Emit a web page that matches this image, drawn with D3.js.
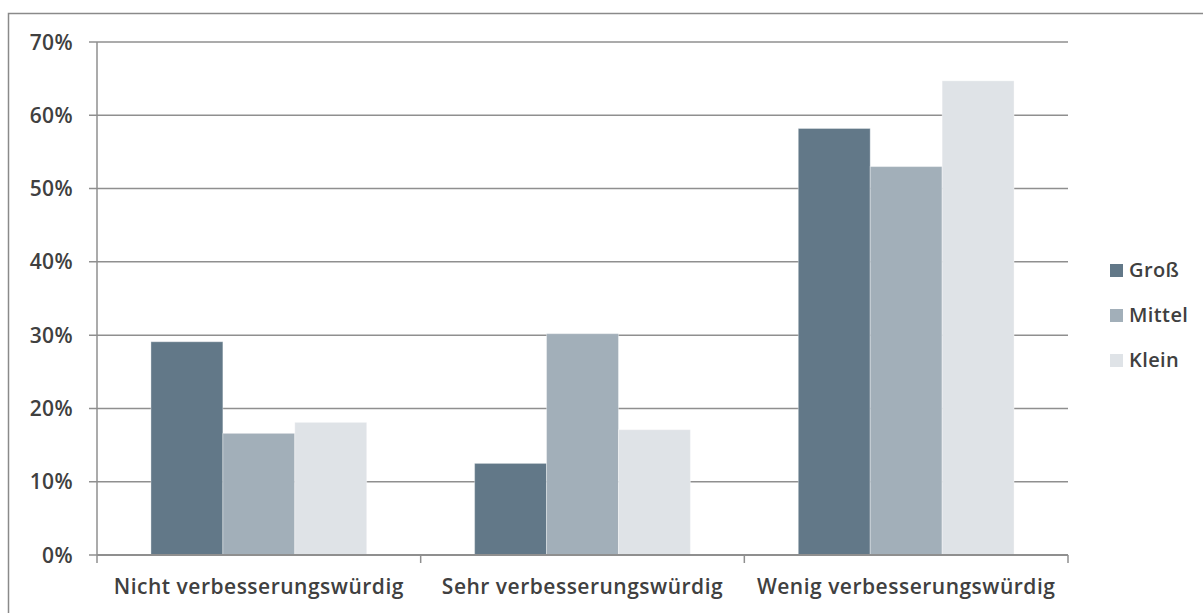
<!DOCTYPE html>
<html><head><meta charset="utf-8">
<script src="https://cdn.jsdelivr.net/npm/d3@7"></script>
<style>body{margin:0;background:#fff;} svg{display:block;}</style>
</head><body><svg id="c" width="1203" height="613"></svg>
<script>
const categories = ["Nicht verbesserungswürdig", "Sehr verbesserungswürdig", "Wenig verbesserungswürdig"];
const seriesNames = ["Groß", "Mittel", "Klein"];
const gross  = [29.1, 12.5, 58.2];
const mittel = [16.6, 30.2, 53.0];
const klein  = [18.1, 17.1, 64.7];
const yTicks = [0, 10, 20, 30, 40, 50, 60, 70];
const colors = ["#627888", "#a2afb9", "#dfe3e7"];

(function(){
const values = [gross, mittel, klein];
const svg = d3.select("#c");
const font = "'Open Sans', 'Liberation Sans', Arial, sans-serif";
const textColor = "#404040";
const gridColor = "#8f8f8f";

svg.append("rect").attr("x", 8.5).attr("y", 13.5).attr("width", 1200).attr("height", 700)
  .attr("fill", "none").attr("stroke", "#8a8a8a").attr("stroke-width", 1.5);

const pL = 97, pR = 1068, pT = 42, pB = 555;
const y = d3.scaleLinear().domain([0, 70]).range([pB, pT]);
const x0 = d3.scaleBand().domain(categories).range([pL, pR]).padding(0);
const x1 = d3.scaleBand().domain(seriesNames).range([x0.bandwidth() / 6, x0.bandwidth() * 5 / 6]).padding(0);

const gy = svg.append("g");
gy.selectAll("line").data(yTicks).join("line")
  .attr("x1", pL - 8).attr("x2", pR)
  .attr("y1", d => y(d)).attr("y2", d => y(d))
  .attr("stroke", gridColor).attr("stroke-width", 1.5);
gy.selectAll("text").data(yTicks).join("text")
  .attr("x", 73).attr("y", d => y(d)).attr("dy", "0.36em")
  .attr("text-anchor", "end").attr("font-family", font).attr("font-size", 21).attr("font-weight", 600)
  .attr("letter-spacing", 0.4)
  .attr("fill", textColor).text(d => d + "%");

svg.append("line").attr("x1", pL).attr("x2", pL).attr("y1", pT).attr("y2", pB)
  .attr("stroke", gridColor).attr("stroke-width", 1.5);

categories.forEach((c, ci) => {
  const g = svg.append("g").attr("transform", `translate(${x0(c)},0)`);
  g.selectAll("rect").data(seriesNames.map((s, si) => ({s, v: values[si][ci], i: si}))).join("rect")
    .attr("x", d => x1(d.s)).attr("width", x1.bandwidth())
    .attr("y", d => y(d.v)).attr("height", d => pB - y(d.v))
    .attr("fill", d => colors[d.i]).attr("stroke", "#ffffff").attr("stroke-opacity", 0.35).attr("stroke-width", 1);
});

svg.append("line").attr("x1", pL).attr("x2", pR).attr("y1", pB).attr("y2", pB)
  .attr("stroke", gridColor).attr("stroke-width", 2);
const xt = x0.domain().map(c => x0(c)).concat([pR]);
svg.append("g").selectAll("line").data(xt).join("line")
  .attr("x1", d => d).attr("x2", d => d).attr("y1", pB).attr("y2", pB + 8)
  .attr("stroke", gridColor).attr("stroke-width", 1.5);
svg.append("g").selectAll("text").data(categories).join("text")
  .attr("x", d => x0(d) + x0.bandwidth() / 2).attr("y", 594)
  .attr("text-anchor", "middle").attr("font-family", font).attr("font-size", 21).attr("font-weight", 600)
  .attr("letter-spacing", 0.5)
  .attr("fill", textColor).text(d => d);

const lg = svg.append("g");
seriesNames.forEach((s, i) => {
  const cy = 270 + i * 45;
  lg.append("rect").attr("x", 1110).attr("y", cy - 6).attr("width", 13).attr("height", 13).attr("fill", colors[i]);
  lg.append("text").attr("x", 1129).attr("y", cy).attr("dy", "0.36em")
    .attr("font-family", font).attr("font-size", 20).attr("font-weight", 600).attr("letter-spacing", 0.4)
    .attr("fill", textColor).text(s);
});
})();
</script></body></html>
